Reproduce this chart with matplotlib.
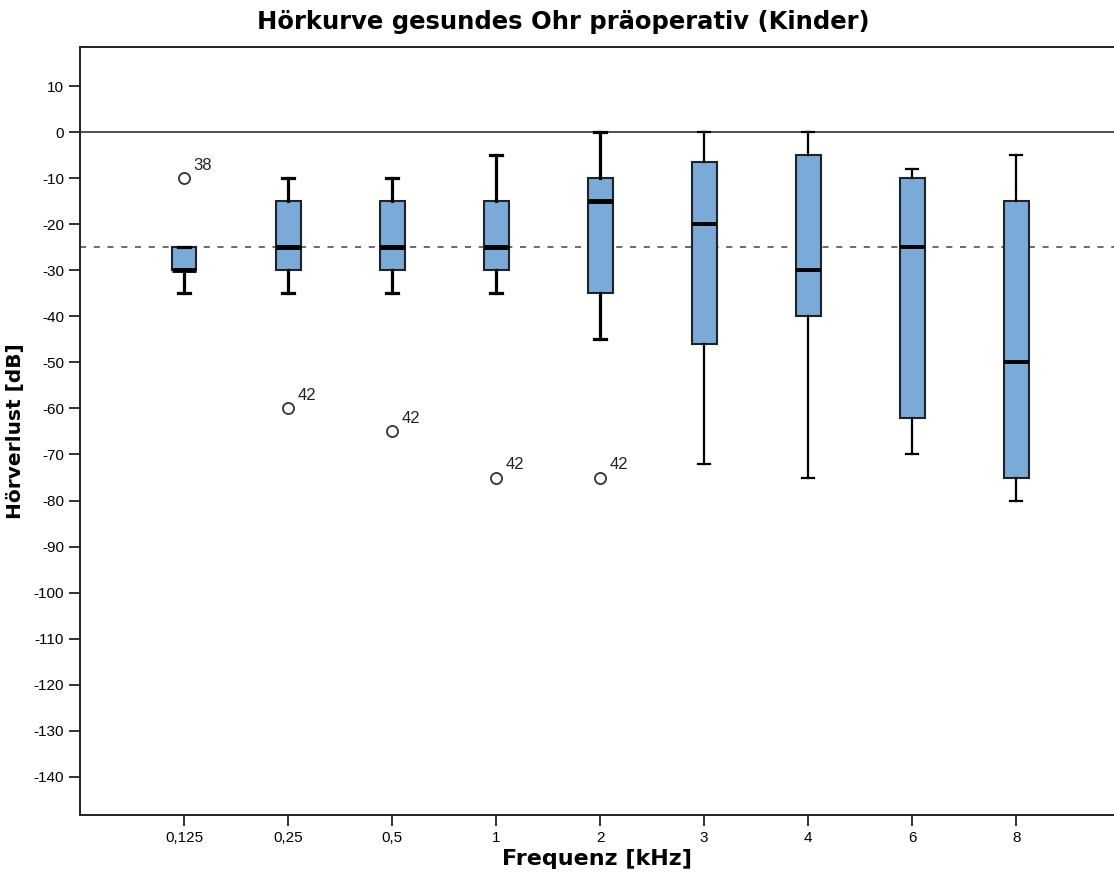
import matplotlib
matplotlib.use("Agg")
import matplotlib.pyplot as plt

# Boxplot summary values (dB)
freqs = ["0,125", "0,25", "0,5", "1", "2", "3", "4", "6", "8"]
whisker_high = [-25, -10, -10, -5, 0, 0, 0, -8, -5]
q3 = [-25, -15, -15, -15, -10, -6.5, -5, -10, -15]
median = [-30, -25, -25, -25, -15, -20, -30, -25, -50]
q1 = [-30, -30, -30, -30, -35, -46, -40, -62, -75]
whisker_low = [-35, -35, -35, -35, -45, -72, -75, -70, -80]
outliers = [[-10], [-60], [-65], [-75], [-75], [], [], [], []]
outlier_ids = [["38"], ["42"], ["42"], ["42"], ["42"], [], [], [], []]


def main():
    plt.rcParams["font.family"] = ["Liberation Sans", "DejaVu Sans"]

    fig = plt.figure(figsize=(11.14, 8.77), dpi=100)
    ax = fig.add_axes([0.0718, 0.0707, 0.9282, 0.8757])

    positions = list(range(1, len(freqs) + 1))

    # reference lines
    ax.axhline(0, color="#333333", lw=1.2, zorder=1)
    ax.axhline(-25, color="#444444", lw=1.1, ls=(0, (4, 5)), zorder=1)

    # the short boxes are drawn with heavier lines than the tall ones
    for i, pos in enumerate(positions):
        heavy = i < 5
        lw = 2.3 if heavy else 1.6
        st = [{
            "whishi": whisker_high[i], "q3": q3[i], "med": median[i],
            "q1": q1[i], "whislo": whisker_low[i], "fliers": outliers[i],
        }]
        ax.bxp(st, positions=[pos], widths=0.24, patch_artist=True,
               boxprops=dict(facecolor="#7AAAD8", edgecolor="#222222", lw=1.5),
               medianprops=dict(color="black", lw=3.5 if heavy else 2.8),
               whiskerprops=dict(color="black", lw=lw),
               capprops=dict(color="black", lw=lw),
               capwidths=0.12,
               flierprops=dict(marker="o", markersize=8, markerfacecolor="white",
                               markeredgecolor="#333333", markeredgewidth=1.3))

    for pos, vals, ids in zip(positions, outliers, outlier_ids):
        for v, lab in zip(vals, ids):
            ax.annotate(lab, (pos, v), xytext=(7, 6), textcoords="offset points",
                        fontsize=12, color="#222222")

    ax.set_xlim(0, 9.94)
    ax.set_ylim(-148.3, 18.5)
    ax.set_xticks(positions)
    ax.set_xticklabels(freqs, fontsize=11)
    ax.set_yticks(range(-140, 11, 10))
    ax.set_yticklabels([str(v) for v in range(-140, 11, 10)], fontsize=11)
    ax.tick_params(axis="both", direction="out", length=8, width=1.3, color="#222222")

    for side in ["left", "bottom", "top"]:
        ax.spines[side].set_linewidth(1.4)
        ax.spines[side].set_color("#222222")
    ax.spines["right"].set_visible(False)

    fig.text(0.5055, 0.967, "Hörkurve gesundes Ohr präoperativ (Kinder)",
             fontsize=17.5, fontweight="bold", family="DejaVu Sans",
             ha="center", va="baseline")
    ax.set_xlabel("Frequenz [kHz]", fontsize=16, fontweight="bold",
                  family="DejaVu Sans", labelpad=3)
    ax.set_ylabel("Hörverlust [dB]", fontsize=14.5, fontweight="bold",
                  family="DejaVu Sans", labelpad=6)

    fig.savefig("out.png", dpi=100)


if __name__ == "__main__":
    main()
